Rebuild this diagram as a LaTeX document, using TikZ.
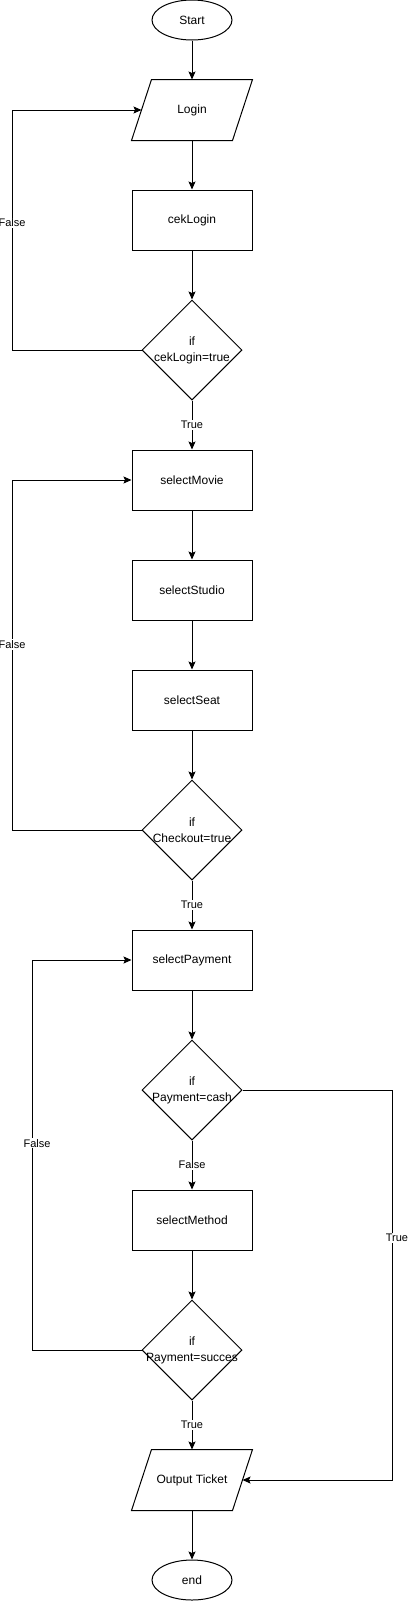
\documentclass[tikz,border=0pt]{standalone}
\usepackage{fontspec}
\setmainfont{Liberation Sans}
\usetikzlibrary{shapes.geometric,arrows.meta}
\newcommand\ioshape[1]{\draw[line width=1pt] ([xshift=-10pt]#1.south west) -- ([xshift=10pt]#1.north west) -- ([xshift=10pt]#1.north east) -- ([xshift=-10pt]#1.south east) -- cycle;}
\begin{document}
\begin{tikzpicture}[x=1pt,y=-1pt,
  base/.style={draw=black,line width=1pt,font=\fontsize{12pt}{15pt}\selectfont,inner sep=0pt},
  term/.style={base,ellipse,minimum width=80pt,minimum height=40pt},
  proc/.style={base,rectangle,minimum width=120pt,minimum height=60pt},
  io/.style={base,draw=none,rectangle,minimum width=100pt,minimum height=60pt},
  dec/.style={base,diamond,minimum width=100pt,minimum height=100pt,
    label={[font=\fontsize{12pt}{16pt}\selectfont,align=center,inner sep=0pt]center:{#1}}},
  arr/.style={line width=1pt,-{Stealth[length=8pt,width=7pt,inset=1.5pt]}},
  lbl/.style={fill=white,font=\fontsize{11pt}{13pt}\selectfont,inner sep=1pt}]
\useasboundingbox (0,0) rectangle (409,1601);
\node[term] (start) at (192,20) {Start};
\node[io] (login) at (192,110) {Login};
\ioshape{login}
\node[proc] (ceklogin) at (192,220) {cekLogin};
\node[dec={if\\cekLogin=true}] (d1) at (192,350) {};
\node[proc] (movie) at (192,480) {selectMovie};
\node[proc] (studio) at (192,590) {selectStudio};
\node[proc] (seat) at (192,700) {selectSeat};
\node[dec={if\\Checkout=true}] (d2) at (192,830) {};
\node[proc] (pay) at (192,960) {selectPayment};
\node[dec={if\\Payment=cash}] (d3) at (192,1090) {};
\node[proc] (method) at (192,1220) {selectMethod};
\node[dec={if\\Payment=succes}] (d4) at (192,1350) {};
\node[io] (out) at (192,1480) {Output Ticket};
\ioshape{out}
\node[term] (end) at (192,1580) {end};
\coordinate (lx1) at (12,0);
\coordinate (lx3) at (32,0);
\coordinate (rx) at (392,0);
\draw[arr] (start) -- (login);
\draw[arr] (login) -- (ceklogin);
\draw[arr] (ceklogin) -- (d1);
\draw[arr] (d1) -- node[lbl]{True} (movie);
\draw[arr] (d1.west) -- (d1.west -| lx1) -- node[lbl,pos=0.53]{False} (login.west -| lx1) -- (login.west);
\draw[arr] (movie) -- (studio);
\draw[arr] (studio) -- (seat);
\draw[arr] (seat) -- (d2);
\draw[arr] (d2) -- node[lbl]{True} (pay);
\draw[arr] (d2.west) -- (d2.west -| lx1) -- node[lbl,pos=0.53]{False} (movie.west -| lx1) -- (movie.west);
\draw[arr] (pay) -- (d3);
\draw[arr] (d3) -- node[lbl]{False} (method);
\draw[arr] (d3.east) -- (d3.east -| rx) -- node[lbl,pos=0.38,xshift=5pt]{True} (out.east -| rx) -- (out.east);
\draw[arr] (method) -- (d4);
\draw[arr] (d4) -- node[lbl]{True} (out);
\draw[arr] (d4.west) -- (d4.west -| lx3) -- node[lbl,pos=0.53,xshift=5pt]{False} (pay.west -| lx3) -- (pay.west);
\draw[arr] (out) -- (end);
\end{tikzpicture}
\end{document}
